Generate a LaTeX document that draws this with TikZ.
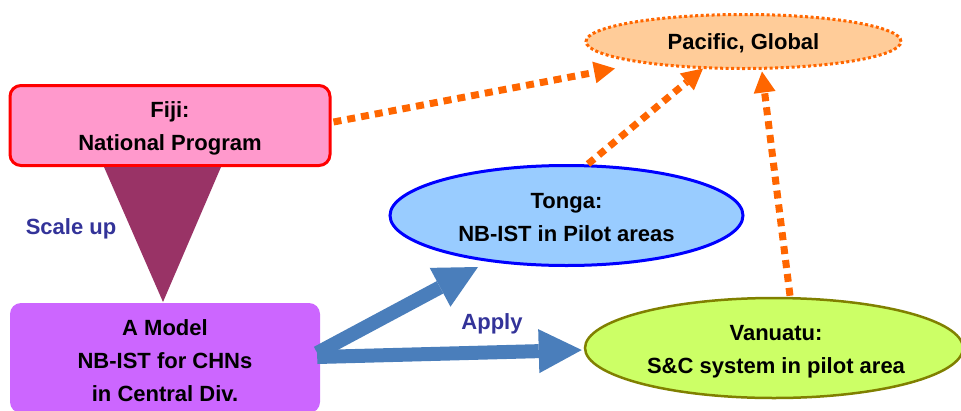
\documentclass[tikz,border=0pt]{standalone}
\usepackage{fontspec}
\setmainfont{Liberation Sans}
\usetikzlibrary{shapes.geometric,arrows.meta,calc}

\definecolor{fijifill}{HTML}{FF99CC}
\definecolor{fijiline}{HTML}{FF0000}
\definecolor{modelfill}{HTML}{CC66FF}
\definecolor{funnel}{HTML}{993366}
\definecolor{labelblue}{HTML}{333399}
\definecolor{applyblue}{HTML}{4A7EBB}
\definecolor{tongafill}{HTML}{99CCFF}
\definecolor{tongaline}{HTML}{0000FF}
\definecolor{vanfill}{HTML}{CCFF66}
\definecolor{vanline}{HTML}{808000}
\definecolor{pacfill}{HTML}{FFCC99}
\definecolor{flow}{HTML}{FF6600}

\tikzset{
  txt/.style={font=\fontsize{22}{33}\selectfont\bfseries, align=center, text=black, inner sep=0pt},
  roundbox/.style={rectangle, rounded corners=11pt, inner sep=0pt},
  oval/.style={ellipse, inner sep=0pt},
  tag/.style={font=\fontsize{22}{26}\selectfont\bfseries, text=labelblue},
  upflow/.style={draw=flow, line width=7pt, dash pattern=on 8pt off 6pt,
    -{Triangle[length=21pt,width=22pt,fill=flow,line width=0pt]}},
  apply/.style={draw=applyblue, line width=14pt,
    -{Triangle[length=43pt,width=44pt,fill=applyblue,line width=0pt]}}
}

\begin{document}
\begin{tikzpicture}[x=1pt,y=-1pt]
  \useasboundingbox (0,0) rectangle (961,410);

  % Boxes on the left
  \node[roundbox, fill=fijifill, draw=fijiline, line width=3pt,
        minimum width=320pt, minimum height=80pt] (fiji) at (170,125.5) {};
  \node[txt] (fijitxt) at ($(fiji.center)+(0,3)$) {Fiji:\\National Program};
  \node[roundbox, fill=modelfill, minimum width=310pt, minimum height=110pt]
        (model) at (165,358) {};
  \node[txt] (modeltxt) at ($(model.center)+(0,3)$) {A Model\\NB-IST for CHNs\\in Central Div.};

  % Scale-up funnel between them
  \coordinate (ftl) at (104,167);
  \coordinate (ftr) at (221,167);
  \coordinate (fap) at (163,302);
  \fill[funnel] (ftl) -- (ftr) -- (fap) -- cycle;
  \node[tag] (scale) at (71,229) {Scale up};

  % Ovals on the right
  \node[oval, fill=pacfill, draw=flow, line width=3pt, dash pattern=on 3pt off 2.5pt,
        minimum width=315pt, minimum height=54pt] (pacific) at (743.5,41.5) {};
  \node[txt] (pacifictxt) at ($(pacific.center)+(0,2)$) {Pacific, Global};
  \node[oval, fill=tongafill, draw=tongaline, line width=3pt,
        minimum width=353pt, minimum height=100pt] (tonga) at (566.5,215.5) {};
  \node[txt] (tongatxt) at ($(tonga.center)+(0,2)$) {Tonga:\\NB-IST in Pilot areas};
  \node[oval, fill=vanfill, draw=vanline, line width=2.5pt,
        minimum width=378pt, minimum height=100pt] (vanuatu) at (774,348) {};
  \node[txt] (vanuatutxt) at ($(vanuatu.center)+(2,4)$) {Vanuatu:\\S\&C system in pilot area};

  % Apply arrows from the model to the pilot countries
  \coordinate (aup) at ($(model.east)+(-3,-5)$);
  \coordinate (alow) at ($(model.east)+(-3,-1)$);
  \draw[apply] (aup) -- ($(tonga.south)+(-88.5,0)$);
  \draw[apply] (alow) -- ($(vanuatu.west)+(-2,2)$);
  \node[tag] (apply) at (492,324) {Apply};

  % Flows up to the regional level
  \draw[upflow] ($(fiji.east)+(2,-3.5)$) -- ($(pacific.south)+(-128.5,-1.5)$);
  \draw[upflow] ($(tonga.north)+(21.5,0)$) -- ($(pacific.south)+(-40.5,-1.5)$);
  \draw[upflow] ($(vanuatu.north)+(16,-1)$) -- ($(pacific.south)+(18.5,1.5)$);
\end{tikzpicture}
\end{document}
